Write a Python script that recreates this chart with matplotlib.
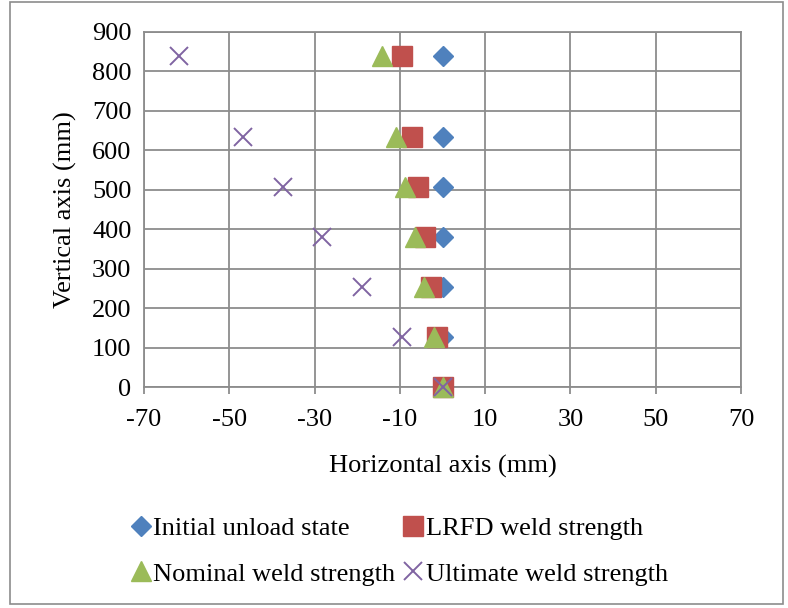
import matplotlib
matplotlib.use("Agg")
import matplotlib.pyplot as plt
from matplotlib.patches import Rectangle

plt.rcParams["font.family"] = ["Liberation Serif", "DejaVu Serif"]
plt.rcParams["axes.unicode_minus"] = False

# Vertical position of each measurement point (mm)
heights = [0, 127, 254, 381, 508, 635, 838]

# Horizontal displacement (mm) at each height, per load case
initial_x = [0, 0, 0, 0, 0, 0, 0]
lrfd_x = [0, -1.4, -2.7, -4.1, -5.8, -7.2, -9.5]
nominal_x = [0, -2.1, -4.4, -6.5, -8.7, -10.8, -14.2]
ultimate_x = [0, -9.4, -18.8, -28.2, -37.5, -46.8, -61.8]

x_ticks = [-70, -50, -30, -10, 10, 30, 50, 70]
y_ticks = [0, 100, 200, 300, 400, 500, 600, 700, 800, 900]

W, H = 788, 608
FS = 19
fig = plt.figure(figsize=(W / 100, H / 100), dpi=100)

# Outer chart border
fig.patches.append(Rectangle((10 / W, 1 - 604 / H), 773 / W, 602 / H,
                             transform=fig.transFigure, fill=False,
                             edgecolor="#8c8c8c", linewidth=1.2))

ax = fig.add_axes([144 / W, 1 - 387 / H, (741 - 144) / W, (387 - 32) / H])

grid_c = "#8c8c8c"
ax.set_xlim(-70, 70)
ax.set_ylim(0, 900)
ax.set_xticks(x_ticks)
ax.set_yticks(y_ticks)
ax.grid(True, color=grid_c, linewidth=1.3)
ax.set_axisbelow(True)
for s in ax.spines.values():
    s.set_color(grid_c)
    s.set_linewidth(1.3)
ax.tick_params(axis="x", length=5, width=1.3, color=grid_c, labelsize=FS, pad=11)
ax.tick_params(axis="y", length=0, labelsize=FS, pad=9)

common = dict(linestyle="none", clip_on=False)
l1, = ax.plot(initial_x, heights, marker="D", markersize=9.7,
              color="#4F81BD", label="Initial unload state", zorder=3, **common)
l2, = ax.plot(lrfd_x, heights, marker="s", markersize=14,
              color="#C0504D", label="LRFD weld strength", zorder=4, **common)
l3, = ax.plot(nominal_x, heights, marker="^", markersize=14,
              color="#9BBB59", label="Nominal weld strength", zorder=5, **common)
l4, = ax.plot(ultimate_x, heights, marker="x", markersize=13.5,
              markeredgewidth=1.4, color="#8064A2", label="Ultimate weld strength",
              zorder=6, **common)

ax.set_xlabel("Horizontal axis (mm)", fontsize=FS, labelpad=17)
ax.set_ylabel("Vertical axis (mm)", fontsize=FS, labelpad=11)

fig.legend(handles=[l1, l3, l2, l4], ncol=2, loc="center left",
           bbox_to_anchor=(131 / W, 1 - 551 / H), frameon=False,
           fontsize=FS, markerscale=1.0, handlelength=0.75, handletextpad=0.1,
           columnspacing=0.3, labelspacing=0.85, borderpad=0, borderaxespad=0)

fig.savefig("out.png", dpi=100)
